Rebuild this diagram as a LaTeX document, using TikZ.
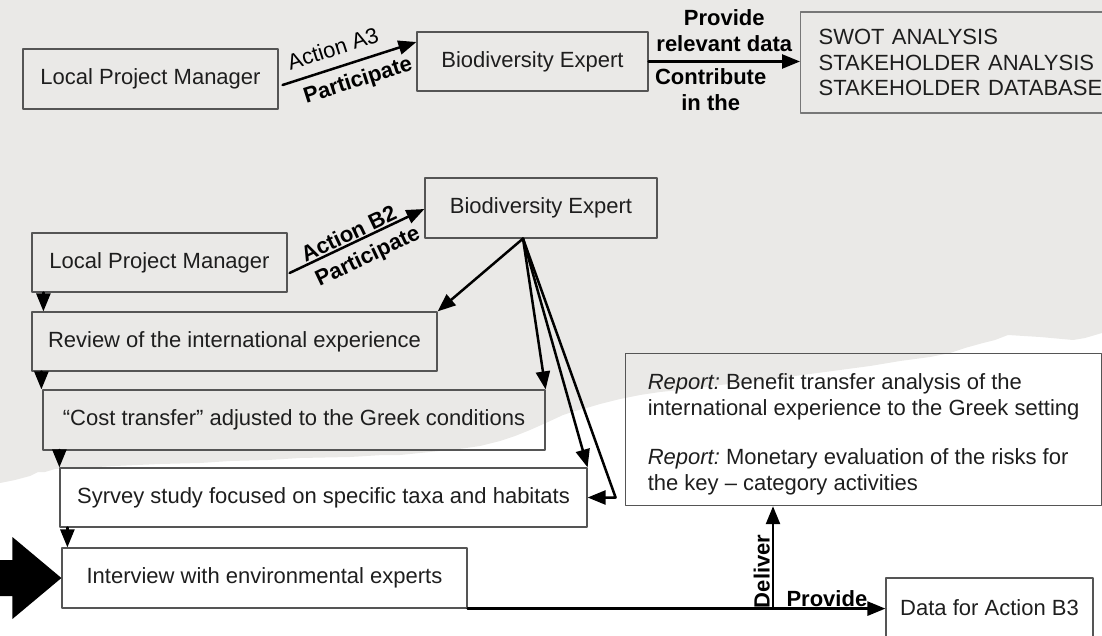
\documentclass[tikz,border=0pt]{standalone}
\usepackage{fontspec}
\setmainfont{Liberation Sans}
\usetikzlibrary{arrows.meta}
\definecolor{paper}{RGB}{234,233,231}
\definecolor{boxline}{RGB}{85,85,85}
\definecolor{ink}{RGB}{30,30,30}
\frenchspacing

\begin{document}
\begin{tikzpicture}[line cap=round,line join=round,>={Triangle[length=18pt,width=14pt]},x=1pt,y=-1pt,
  box/.style={draw=boxline,line width=1.2pt,text=ink,inner sep=0pt,font=\fontsize{22}{26}\selectfont},
  lbl/.style={text=black,font=\bfseries\fontsize{22}{26}\selectfont},
  flow/.style={->,line width=2.5pt}]
\useasboundingbox (0,0) rectangle (1102,636);
\clip (0,0) rectangle (1102,636);
% torn paper
\fill[paper] (0,0) -- (1102,0) -- (1102,333) -- (1085,338) -- (1073,340) -- (1040,337) -- (1008,335)
  -- (995,340) -- (983,343) -- (965,348) -- (950,353) -- (930,357) -- (900,361) -- (870,366)
  -- (840,370) -- (810,374) -- (780,378) -- (750,382) -- (720,385) -- (690,389) -- (660,392)
  -- (640,395) -- (620,399) -- (600,404) -- (590,407) -- (575,411) -- (563,415) -- (548,422)
  -- (530,430) -- (515,436) -- (500,441) -- (480,446) -- (459,449) -- (430,452) -- (400,455)
  -- (383,455) -- (350,457) -- (300,458) -- (268,460) -- (230,461) -- (200,463) -- (160,464)
  -- (115,466) -- (80,468) -- (55,469) -- (45,472) -- (38,472) -- (30,476) -- (15,480)
  -- (0,483) -- cycle;
%
% Action A3
\node[box,minimum width=255pt,minimum height=60pt] (lpmA) at (150.5,79) {Local Project Manager};
\node[box,minimum width=231pt,minimum height=59pt] (beA) at (532.5,61.5) {Biodiversity Expert};
\node[box,draw=boxline!80,anchor=west,text width=320pt,inner xsep=18pt,minimum height=101pt,
  align=left,font=\fontsize{22}{25.5}\selectfont] (swot) at (800,62.5)
  {SWOT ANALYSIS\\STAKEHOLDER ANALYSIS\\STAKEHOLDER DATABASE};
\draw[flow] ([xshift=4pt,yshift=-6pt]lpmA.east) --
  node[pos=0.42,sloped,above,inner sep=10pt,font=\fontsize{22}{26}\selectfont] {Action A3}
  node[pos=0.52,sloped,below,lbl,inner sep=8pt] {Participate} ([yshift=19.5pt]beA.west);
\draw[flow] (beA.east) --
  node[pos=0.5,above,lbl,align=center,inner sep=9pt] {Provide\\relevant data}
  node[pos=0.41,below,lbl,align=center,inner sep=6pt] {Contribute\\in the} (beA.east -| swot.west);
%
% Action B2
\node[box,minimum width=232pt,minimum height=60pt] (beB) at (541,208) {Biodiversity Expert};
\node[box,minimum width=255pt,minimum height=59pt] (lpmB) at (159.5,262.5) {Local Project Manager};
\node[box,minimum width=405pt,minimum height=59pt] (review) at (234.5,341.5) {Review of the international experience};
\node[box,minimum width=502pt,minimum height=60pt] (cost) at (294,420) {“Cost transfer” adjusted to the Greek conditions};
\node[box,minimum width=527pt,minimum height=59pt] (survey) at (323.5,497.5) {Syrvey study focused on specific taxa and habitats};
\node[box,minimum width=405pt,minimum height=60pt] (interview) at (264.5,578) {Interview with environmental experts};
\node[box,anchor=north west,minimum width=476pt,minimum height=152pt,align=left] (report) at (625,353)
  {\rule{0pt}{26pt}\textit{Report:} Benefit transfer analysis of the\\international experience to the Greek setting\\[23pt]
   \textit{Report:} Monetary evaluation of the risks for\\the key – category activities};
\node[box,minimum width=207pt,minimum height=60pt] (data) at (989.5,608) {Data for Action B3};
%
\draw[flow] ([xshift=2pt,yshift=-10.5pt]lpmB.east) --
  node[pos=0.47,sloped,above,lbl,inner sep=1pt] {Action B2}
  node[pos=0.52,sloped,below,lbl,inner sep=8pt] {Participate} ([yshift=-1pt]beB.west);
\coordinate (fan) at ([xshift=-18pt]beB.south);
\draw[flow] (fan) -- (review.north east);
\draw[flow] (fan) -- (cost.north east);
\draw[flow] (fan) -- (survey.north east);
\draw[flow] (fan) -- ([xshift=28pt]survey.east) -- (survey.east);
%
\draw[flow] ([xshift=12pt]lpmB.south west) -- ([xshift=12pt]lpmB.south west |- review.north);
\draw[flow] ([xshift=10pt]review.south west) -- ([xshift=10pt]review.south west |- cost.north);
\draw[flow] ([xshift=17pt]cost.south west) -- ([xshift=17pt]cost.south west |- survey.north);
\draw[flow] ([xshift=8pt]survey.south west) -- ([xshift=8pt]survey.south west |- interview.north);
%
\draw[flow] (interview.south east) --
  node[pos=0.86,above,lbl,inner sep=1pt] {Provide} (interview.south east -| data.west);
\coordinate (dv) at (773,608);
\draw[flow] (dv) -- node[pos=0.36,rotate=90,anchor=south,lbl,inner sep=2pt] {Deliver} (dv |- report.south);
%
\fill[black] (interview.west) -- ++(-49,-41) -- ++(0,23) -- ++(-20,0) -- ++(0,36)
  -- ++(20,0) -- ++(0,23) -- cycle;
\end{tikzpicture}
\end{document}
